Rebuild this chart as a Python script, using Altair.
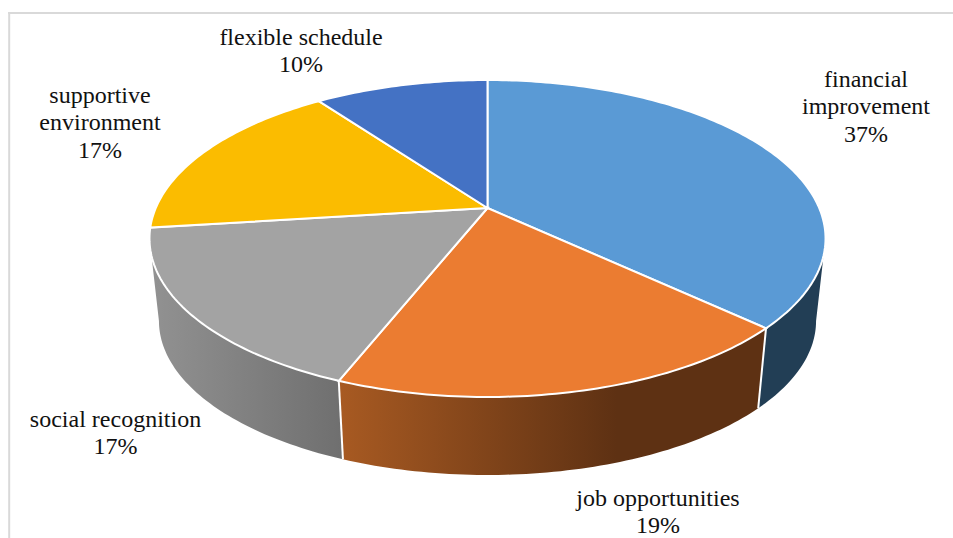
import math
import altair as alt
import pandas as pd

# Reasons and their shares, clockwise from twelve o'clock
reasons = ["financial\nimprovement", "job opportunities", "social recognition",
           "supportive\nenvironment", "flexible schedule"]
shares = [37, 19, 17, 17, 10]
top_colors = ["#5A9AD5", "#EB7C31", "#A3A3A3", "#FBBC00", "#4472C4"]

# Label anchors (centre of the first line), in pixels
label_x = [866, 658, 115.5, 100, 301]
label_y = [80, 499, 420, 96, 38]

# Perspective model of the tilted disc
CX, CY = 487.5, 208.0
RX, RY, TILT = 331.7, 152.6, 0.1925
BASE_SCALE, BASE_DROP = 0.972, 83.3


def rim(theta_deg, scale=1.0, drop=0.0):
    t = math.radians(theta_deg)
    sx, sy = math.sin(t), math.cos(t)
    d = 1 + TILT * sy
    return [CX + scale * RX * sx / d, CY + drop - scale * RY * sy / d]


def arc(a, b, scale=1.0, drop=0.0):
    n = max(2, int(abs(b - a)))
    return [rim(a + (b - a) * i / n, scale, drop) for i in range(n + 1)]


def polygon(points):
    return {"type": "Feature", "properties": {},
            "geometry": {"type": "Polygon", "coordinates": [points + [points[0]]]}}


def line(points):
    return {"type": "Feature", "properties": {},
            "geometry": {"type": "LineString", "coordinates": points}}


def shape(feature, **mark):
    return alt.Chart(alt.Data(values=[feature])).mark_geoshape(**mark).project(
        type="identity", scale=1, translate=[0, 0])


def horizontal(stops):
    return {"gradient": "linear", "x1": 0, "y1": 0, "x2": 1, "y2": 0,
            "stops": [{"offset": o, "color": c} for o, c in stops]}


# Cumulative slice boundaries in degrees
bounds = [0.0]
for s in shares:
    bounds.append(bounds[-1] + s * 3.6)

SILHOUETTE = math.degrees(math.acos(-TILT))  # where the rim is widest on screen

wall_spans = [
    (SILHOUETTE, bounds[1], "#223E55"),
    (bounds[1], bounds[2], horizontal([(0, "#A85A22"), (0.65, "#5E3113"), (1, "#5E3113")])),
    (bounds[2], 360 - SILHOUETTE, horizontal([(0, "#929292"), (1, "#6F6F6F")])),
]

layers = []

# Frame around the chart
frame = "#D9D9D9"
layers.append(alt.Chart(pd.DataFrame({"k": [0]})).mark_rule(color=frame, strokeWidth=2).encode(
    x=alt.value(9.2), y=alt.value(12), y2=alt.value(538)))
layers.append(alt.Chart(pd.DataFrame({"k": [0]})).mark_rule(color=frame, strokeWidth=2).encode(
    x=alt.value(8.2), x2=alt.value(953), y=alt.value(13)))

# Side walls of the disc
for a, b, fill in wall_spans:
    pts = arc(a, b) + arc(b, a, BASE_SCALE, BASE_DROP)
    layers.append(shape(polygon(pts), fill=fill, stroke=None, strokeWidth=0))

# White seams between the walls
for th in bounds[1:3]:
    layers.append(shape(line([rim(th), rim(th, BASE_SCALE, BASE_DROP)]),
                        fill=None, filled=False, stroke="white", strokeWidth=2))

# Top face slices
for i, color in enumerate(top_colors):
    pts = [[CX, CY]] + arc(bounds[i], bounds[i + 1])
    layers.append(shape(polygon(pts), fill=color, stroke="white", strokeWidth=2))

# Category and percentage labels
labels = pd.DataFrame({
    "text": [f"{r}\n{s}%" for r, s in zip(reasons, shares)],
    "lx": label_x,
    "ly": label_y,
})
layers.append(
    alt.Chart(labels).mark_text(
        font="Liberation Serif", fontSize=24, color="#111111", align="center",
        baseline="middle", lineBreak="\n", lineHeight=27.3,
    ).encode(
        x=alt.X("lx:Q", scale=None, axis=None),
        y=alt.Y("ly:Q", scale=None, axis=None),
        text="text:N",
    )
)

chart = alt.layer(*layers).properties(
    width=953, height=538, padding=0,
    autosize=alt.AutoSizeParams(type="none"),
).configure_view(stroke=None)

chart.save("out.html", embed_options={"renderer": "svg", "actions": False})
